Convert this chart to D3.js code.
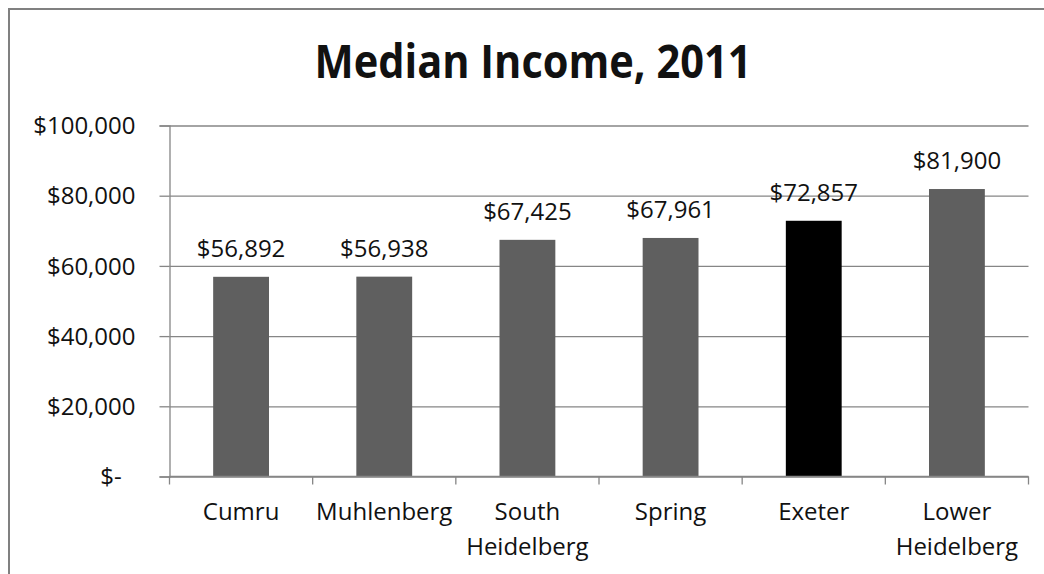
<!DOCTYPE html>
<html>
<head>
<meta charset="utf-8">
<script src="https://cdn.jsdelivr.net/npm/d3@7"></script>
<style>
  html, body { margin: 0; padding: 0; background: #fff; overflow: hidden; }
  svg { display: block; }
  text { font-family: "Open Sans", sans-serif; fill: #111; }
</style>
</head>
<body>
<svg id="chart" width="1044" height="574"></svg>
<script>
// Median household income by municipality, 2011
const title = "Median Income, 2011";
const places = ["Cumru", "Muhlenberg", "South Heidelberg", "Spring", "Exeter", "Lower Heidelberg"];
const incomes = [56892, 56938, 67425, 67961, 72857, 81900];
const highlighted = ["Exeter"];
const yTicks = [0, 20000, 40000, 60000, 80000, 100000];

const svg = d3.select("#chart");
const W = 1044, H = 574;
const plot = { left: 169.5, right: 1028.5, top: 125.5, bottom: 476.5 };

// chart frame (runs off the right and bottom edges)
svg.append("rect")
  .attr("x", 9).attr("y", 9)
  .attr("width", W + 20).attr("height", H + 20)
  .attr("fill", "#fff").attr("stroke", "#808080").attr("stroke-width", 2);

const x = d3.scaleBand().domain(places).range([plot.left, plot.right]).padding(0);
const y = d3.scaleLinear().domain([0, 100000]).range([plot.bottom, plot.top]);

const money = d => d === 0 ? "$-\u2007" : "$" + d3.format(",")(d);

// horizontal gridlines + y axis
const yAxis = d3.axisLeft(y).tickValues(yTicks).tickFormat(money).tickSize(10).tickPadding(24);
const gy = svg.append("g").attr("transform", `translate(${plot.left},0)`).call(yAxis);
gy.select(".domain").attr("stroke", "#868686").attr("stroke-width", 1.3);
gy.selectAll(".tick line").clone()
  .attr("x1", 0).attr("x2", plot.right - plot.left);
gy.selectAll(".tick line").attr("stroke", "#868686").attr("stroke-width", 1.3);
gy.selectAll(".tick text")
  .attr("font-size", 24).attr("font-family", "Open Sans").attr("fill", "#111")
  .attr("dy", "0.34em");

// bars
const barW = x.bandwidth() * 0.39;
svg.append("g").selectAll("rect").data(places).join("rect")
  .attr("x", (d) => x(d) + (x.bandwidth() - barW) / 2)
  .attr("width", barW)
  .attr("y", (d, i) => y(incomes[i]))
  .attr("height", (d, i) => y(0) - y(incomes[i]))
  .attr("fill", d => highlighted.includes(d) ? "#000" : "#5f5f5f");

// category axis with ticks at band edges
const edges = places.map(d => x(d)).concat([plot.right]);
const gx = svg.append("g");
gx.append("line")
  .attr("x1", plot.left).attr("x2", plot.right)
  .attr("y1", y(0)).attr("y2", y(0))
  .attr("stroke", "#868686").attr("stroke-width", 1.3);
gx.selectAll("line.edge").data(edges).join("line").attr("class", "edge")
  .attr("x1", d => d).attr("x2", d => d)
  .attr("y1", y(0)).attr("y2", y(0) + 8)
  .attr("stroke", "#868686").attr("stroke-width", 1.3);

const catLabel = gx.selectAll("text.cat").data(places).join("text").attr("class", "cat")
  .attr("text-anchor", "middle")
  .attr("font-size", 24)
  .attr("transform", d => `translate(${x(d) + x.bandwidth() / 2},${y(0) + 43})`);
catLabel.each(function (d) {
  const words = d.split(" ");
  const lines = words.length > 1 ? [words.slice(0, -1).join(" "), words[words.length - 1]] : [d];
  d3.select(this).selectAll("tspan").data(lines).join("tspan")
    .attr("x", 0).attr("y", (l, i) => i * 35).text(l => l);
});

// value labels above bars
svg.append("g").selectAll("text").data(places).join("text")
  .attr("text-anchor", "middle")
  .attr("font-size", 24)
  .attr("x", d => x(d) + x.bandwidth() / 2)
  .attr("y", (d, i) => y(incomes[i]) - 20)
  .text((d, i) => money(incomes[i]));

// title, condensed to a narrower face
svg.append("text")
  .attr("x", 533).attr("y", 78)
  .attr("text-anchor", "middle")
  .attr("font-size", 46).attr("font-weight", 700)
  .attr("fill", "#000")
  .attr("textLength", 437).attr("lengthAdjust", "spacingAndGlyphs")
  .text(title);
</script>
</body>
</html>
